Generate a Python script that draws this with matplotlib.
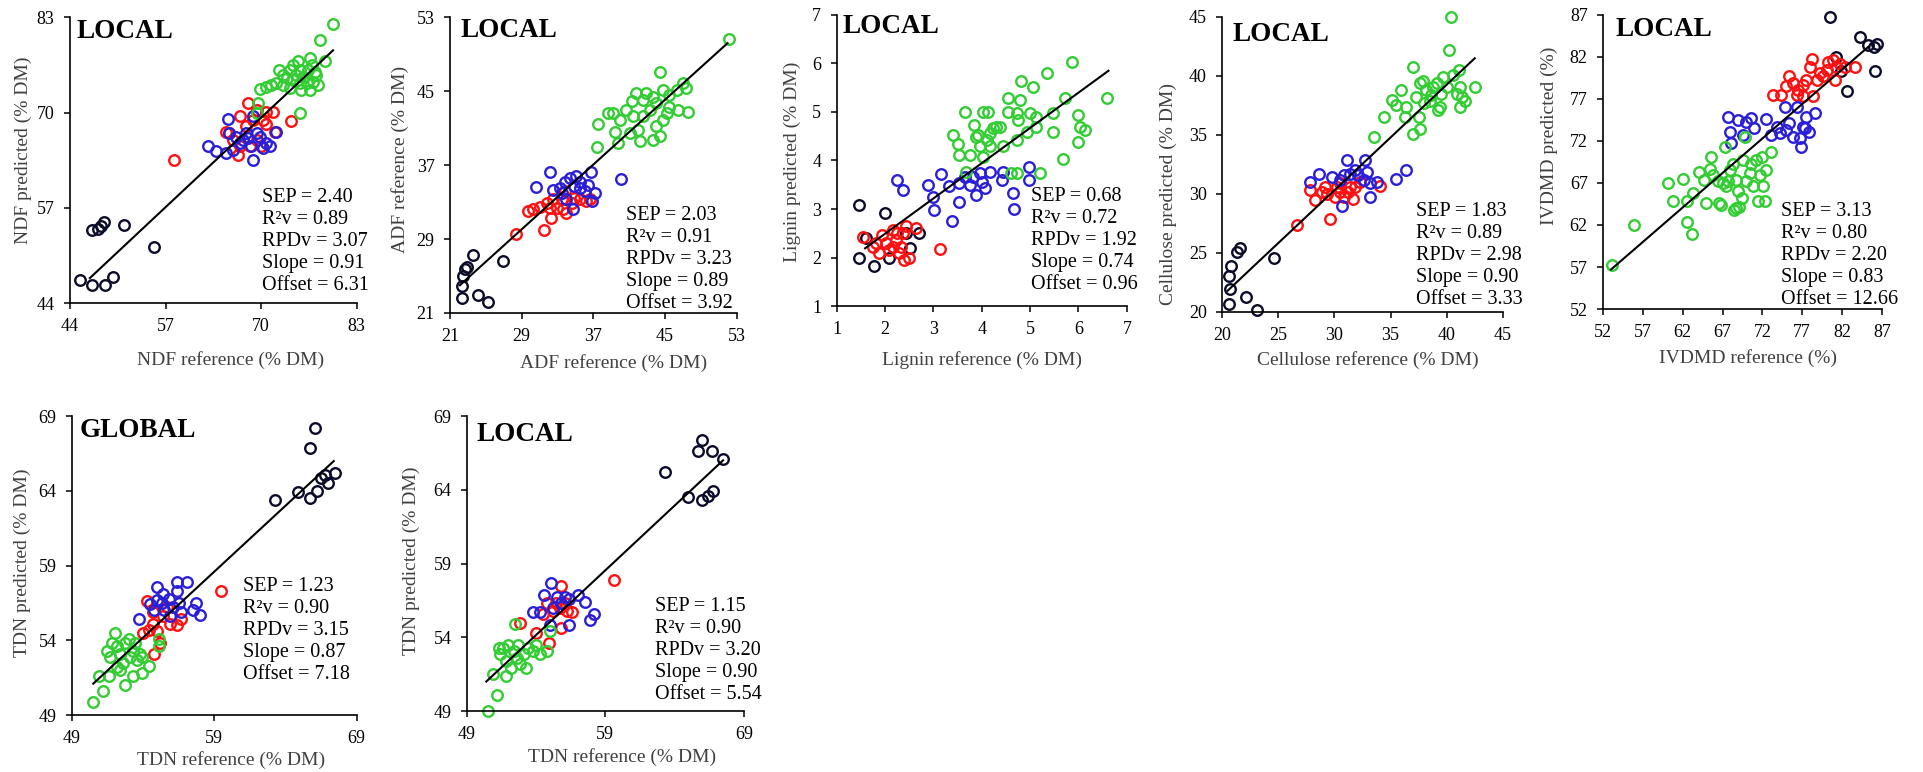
import matplotlib
matplotlib.use('Agg')
import matplotlib.pyplot as plt

plt.rcParams['font.family'] = ['Liberation Serif', 'DejaVu Serif']

# ---------------- DATA ----------------
stat_names = ['SEP', 'R\u00b2v', 'RPDv', 'Slope', 'Offset']

# NDF (LOCAL)
ndf_black_x = [45.4, 47.0, 48.8, 49.8, 47.0, 47.8, 48.2, 48.6, 51.4, 55.4]
ndf_black_y = [47.2, 46.5, 46.4, 47.6, 54.0, 54.1, 54.5, 55.0, 54.7, 51.7]
ndf_red_x = [58.1, 67.1, 68.2, 69.4, 70.7, 71.6, 74.1, 65.3, 65.7, 66.9, 68.9, 70.3, 70.7, 68.0, 69.4, 71.9, 66.2, 68.5, 67.1, 70.0]
ndf_red_y = [63.5, 69.5, 71.3, 70.4, 70.1, 70.1, 68.9, 67.4, 67.2, 64.2, 69.0, 69.0, 68.5, 68.1, 66.3, 67.4, 66.3, 65.4, 65.4, 65.4]
ndf_blue_x = [65.5, 62.8, 63.9, 65.3, 66.2, 66.6, 67.5, 68.0, 68.7, 68.9, 69.4, 69.8, 70.3, 70.7, 72.1, 68.9, 67.1, 65.7, 71.2, 68.2]
ndf_blue_y = [69.1, 65.5, 64.7, 64.5, 64.9, 66.7, 66.3, 67.2, 65.4, 63.5, 67.2, 66.7, 65.1, 65.8, 67.3, 69.5, 65.8, 67.2, 65.4, 66.5]
ndf_green_x = [79.8, 78.0, 78.7, 76.6, 75.3, 69.4, 69.6, 69.8, 70.7, 72.1, 73.5, 73.9, 74.4, 75.3, 75.7, 76.2, 77.1, 77.5, 76.9,
               77.8, 76.6, 75.5, 75.3, 74.4, 73.0, 73.0, 71.4, 72.5, 74.8, 73.9, 77.3, 76.4, 75.0]
ndf_green_y = [82.1, 79.9, 77.1, 77.5, 69.9, 69.9, 71.3, 73.2, 73.5, 74.0, 74.7, 75.8, 76.5, 75.8, 74.9, 74.0, 74.2, 75.1, 76.5,
               73.8, 73.1, 73.1, 74.0, 74.5, 75.1, 73.8, 73.8, 75.8, 75.1, 73.3, 75.6, 75.8, 77.0]
ndf_fit_x = [46.7, 79.8]
ndf_fit_y = [47.4, 78.5]
ndf_stats = [2.40, 0.89, 3.07, 0.91, 6.31]
ndf_ticks = [44, 57, 70, 83]

# ADF (LOCAL)
adf_black_x = [22.3, 22.3, 22.5, 22.7, 22.9, 23.6, 24.1, 25.2, 26.9]
adf_black_y = [22.6, 23.9, 25.0, 25.8, 26.0, 27.3, 22.9, 22.2, 26.6]
adf_red_x = [28.4, 31.5, 29.7, 30.3, 31.0, 31.8, 32.3, 32.9, 33.6, 34.0, 34.6, 33.5, 35.5, 36.2, 36.6, 32.5, 33.8, 34.8, 32.2]
adf_red_y = [29.5, 30.0, 32.0, 32.2, 32.5, 32.9, 31.3, 32.4, 32.2, 31.8, 32.9, 33.3, 33.3, 33.1, 33.3, 33.3, 34.2, 33.4, 32.4]
adf_blue_x = [30.6, 32.2, 32.5, 33.3, 33.8, 34.4, 35.1, 35.5, 36.1, 36.8, 37.2, 36.9, 40.1, 34.7, 34.0, 33.5, 35.5, 36.4, 34.8]
adf_blue_y = [34.6, 36.3, 34.3, 34.5, 35.2, 35.6, 35.8, 34.5, 34.2, 36.3, 34.0, 33.1, 35.5, 32.2, 33.3, 34.0, 35.2, 34.9, 34.7]
adf_green_x = [52.2, 44.5, 37.4, 37.5, 38.7, 39.4, 40.0, 40.7, 41.3, 41.8, 42.6, 42.9, 43.7, 44.0, 44.8, 45.5, 46.3, 47.0, 47.4,
               47.6, 46.5, 45.5, 44.8, 44.0, 44.4, 43.7, 42.2, 41.1, 39.8, 39.2, 43.3, 42.6, 41.4, 42.0, 45.2]
adf_green_y = [50.7, 47.1, 39.0, 41.5, 42.6, 40.6, 41.9, 43.0, 43.9, 44.8, 44.1, 44.8, 44.4, 43.7, 45.1, 44.6, 45.1, 45.9, 45.3,
               42.8, 43.0, 43.3, 41.9, 41.2, 40.1, 39.7, 39.6, 40.5, 39.4, 42.6, 43.0, 42.3, 42.3, 40.8, 42.6]
adf_fit_x = [22.1, 52.0]
adf_fit_y = [24.0, 50.2]
adf_stats = [2.03, 0.91, 3.23, 0.89, 3.92]
adf_ticks = [21, 29, 37, 45, 53]

# Lignin (LOCAL)
lig_black_x = [1.47, 2.01, 1.46, 1.78, 1.61, 2.09, 2.51, 2.71, 2.44]
lig_black_y = [3.08, 2.92, 2.00, 1.82, 2.40, 1.98, 2.19, 2.50, 2.50]
lig_red_x = [1.54, 1.75, 1.95, 2.16, 2.23, 2.37, 2.44, 2.64, 1.88, 2.09, 2.30, 2.40, 2.49, 3.13, 1.82, 2.02, 2.16, 2.33, 2.26]
lig_red_y = [2.43, 2.22, 2.46, 2.57, 2.36, 2.50, 2.64, 2.60, 2.09, 2.15, 2.09, 1.95, 1.98, 2.17, 2.29, 2.29, 2.22, 2.22, 2.50]
lig_blue_x = [2.26, 2.37, 2.89, 3.16, 3.32, 2.99, 3.02, 3.39, 3.53, 3.65, 3.75, 3.89, 3.96, 4.01, 4.06, 4.17, 4.44, 4.41, 4.64,
              4.66, 4.98, 4.98, 3.54, 3.82]
lig_blue_y = [3.60, 3.39, 3.49, 3.72, 3.47, 3.25, 2.98, 2.76, 3.15, 3.67, 3.49, 3.29, 3.74, 3.56, 3.43, 3.77, 3.77, 3.60, 3.34,
              3.01, 3.87, 3.60, 3.53, 3.67]
lig_green_x = [5.86, 5.34, 4.82, 5.06, 4.55, 4.79, 5.72, 6.58, 3.65, 4.03, 4.13, 4.55, 4.72, 4.99, 5.13, 5.48, 6.00, 4.75, 3.41,
               3.51, 3.54, 3.75, 3.85, 3.92, 3.96, 4.10, 4.17, 4.23, 4.30, 4.37, 4.44, 4.72, 4.93, 5.13, 5.48, 6.03, 6.13,
               6.00, 5.69, 4.03, 3.68, 4.61, 4.72, 5.20, 4.17, 3.89]
lig_green_y = [6.04, 5.80, 5.63, 5.51, 5.28, 5.25, 5.28, 5.28, 5.01, 5.01, 5.01, 5.01, 4.97, 4.97, 4.90, 4.97, 4.94, 4.84, 4.53,
               4.35, 4.11, 4.11, 4.73, 4.53, 4.29, 4.42, 4.56, 4.66, 4.70, 4.70, 4.29, 4.42, 4.59, 4.70, 4.59, 4.70, 4.63,
               4.39, 4.04, 4.08, 3.77, 3.74, 3.74, 3.74, 4.29, 4.49]
lig_fit_x = [1.59, 6.62]
lig_fit_y = [2.19, 5.85]
lig_stats = [0.68, 0.72, 1.92, 0.74, 0.96]
lig_ticks = [1, 2, 3, 4, 5, 6, 7]

# Cellulose (LOCAL)
cel_black_x = [20.6, 20.7, 20.6, 20.8, 21.3, 21.6, 22.1, 23.1, 24.6]
cel_black_y = [20.7, 21.9, 23.0, 23.9, 25.1, 25.4, 21.3, 20.2, 24.6]
cel_red_x = [26.7, 27.8, 28.3, 28.9, 29.3, 29.6, 30.1, 30.5, 30.9, 31.2, 31.7, 31.8, 32.3, 30.5, 34.1, 29.2, 30.2, 31.4]
cel_red_y = [27.4, 30.3, 29.5, 30.2, 30.0, 27.9, 29.7, 30.2, 29.7, 30.2, 29.6, 30.6, 31.0, 30.9, 30.7, 30.6, 30.6, 30.6]
cel_blue_x = [27.8, 28.6, 29.8, 30.7, 31.1, 30.5, 31.4, 31.8, 32.1, 32.6, 32.9, 32.7, 33.2, 33.2, 33.8, 35.5, 36.4, 30.9]
cel_blue_y = [31.0, 31.7, 31.4, 29.0, 32.9, 31.2, 31.7, 32.0, 31.6, 31.2, 31.9, 32.9, 30.9, 29.7, 31.0, 31.3, 32.0, 31.6]
cel_green_x = [40.4, 40.2, 37.0, 33.5, 34.4, 35.1, 35.5, 35.9, 36.3, 37.0, 37.6, 36.4, 37.3, 37.6, 37.9, 38.2, 38.5, 38.8, 39.1,
               39.4, 39.5, 39.7, 40.0, 40.6, 40.9, 41.2, 41.4, 41.6, 41.2, 42.5, 37.5, 38.0, 39.2, 38.6, 41.1]
cel_green_y = [45.0, 42.2, 40.8, 34.8, 36.5, 38.0, 37.5, 38.8, 36.5, 35.1, 35.5, 37.4, 38.2, 39.4, 39.6, 38.8, 37.9, 39.1, 39.4,
               37.4, 38.5, 39.9, 39.1, 40.1, 38.5, 39.1, 38.2, 37.9, 37.4, 39.1, 36.5, 37.7, 37.1, 38.4, 40.5]
cel_fit_x = [20.5, 42.5]
cel_fit_y = [21.8, 41.5]
cel_stats = [1.83, 0.89, 2.98, 0.90, 3.33]
cel_ticks = [20, 25, 30, 35, 40, 45]

# IVDMD (LOCAL)
ivd_black_x = [80.5, 84.2, 85.3, 86.4, 86.2, 82.6, 81.3, 81.9, 86.0]
ivd_black_y = [86.7, 84.4, 83.4, 83.5, 80.3, 77.9, 82.0, 80.3, 83.2]
ivd_red_x = [73.3, 74.4, 75.0, 75.4, 75.9, 76.5, 77.1, 77.5, 78.0, 78.2, 78.4, 78.8, 79.2, 79.6, 80.3, 80.9, 81.3, 81.7, 82.4,
             83.6, 77.1, 76.3, 80.1, 81.1]
ivd_red_y = [77.5, 77.5, 78.5, 79.7, 78.9, 78.1, 78.7, 79.3, 80.8, 81.8, 77.3, 79.3, 80.1, 79.7, 81.4, 81.6, 80.8, 81.2, 80.8,
             80.8, 77.3, 77.5, 80.5, 79.3]
ivd_blue_x = [67.7, 68.0, 68.1, 68.9, 69.6, 70.0, 70.6, 71.0, 72.5, 73.1, 73.8, 74.2, 74.8, 75.0, 75.9, 76.3, 76.7, 76.9, 77.1,
              77.5, 77.8, 78.6, 77.3, 75.4]
ivd_blue_y = [74.8, 73.1, 71.7, 74.5, 72.7, 74.3, 74.7, 73.5, 74.6, 72.7, 73.7, 72.9, 76.1, 73.3, 72.5, 76.1, 72.3, 71.3, 73.7,
              74.9, 73.1, 75.3, 73.5, 74.1]
ivd_green_x = [53.1, 55.9, 62.6, 63.2, 60.1, 60.8, 62.0, 62.6, 63.3, 64.1, 64.7, 65.4, 65.6, 65.8, 66.4, 66.6, 66.8, 67.3, 67.5,
               67.9, 68.3, 68.7, 68.9, 69.1, 69.4, 69.6, 69.8, 70.0, 70.4, 70.6, 70.8, 71.2, 71.5, 71.7, 71.9, 72.1, 72.3,
               72.5, 73.1, 68.7, 67.0, 67.7, 68.5, 64.9]
ivd_green_y = [57.2, 62.0, 62.4, 60.9, 67.0, 64.9, 67.5, 64.8, 65.8, 68.3, 67.4, 68.7, 70.1, 68.0, 67.2, 64.6, 64.4, 71.3, 66.6,
               68.5, 69.3, 67.4, 66.0, 64.2, 65.2, 69.7, 72.5, 67.2, 68.2, 69.3, 66.6, 69.7, 64.8, 68.0, 70.1, 66.6, 64.8,
               68.5, 70.7, 64.0, 67.0, 67.2, 63.8, 64.6]
ivd_fit_x = [53.0, 85.3]
ivd_fit_y = [56.7, 83.2]
ivd_stats = [3.13, 0.80, 2.20, 0.83, 12.66]
ivd_ticks = [52, 57, 62, 67, 72, 77, 82, 87]

# TDN (GLOBAL)
tdg_black_x = [66.1, 65.7, 63.3, 64.9, 65.7, 66.2, 66.5, 67.0, 67.5, 66.8]
tdg_black_y = [68.2, 66.9, 63.4, 63.9, 63.5, 64.0, 64.9, 64.5, 65.2, 65.1]
tdg_red_x = [59.5, 54.3, 54.0, 54.4, 54.7, 55.0, 54.8, 55.2, 55.4, 55.9, 56.4, 56.7, 54.7, 55.7]
tdg_red_y = [57.3, 56.6, 54.5, 54.7, 55.1, 54.6, 53.1, 53.8, 55.6, 55.1, 55.0, 55.4, 55.9, 56.2]
tdg_blue_x = [55.0, 56.4, 57.1, 56.4, 53.7, 54.5, 55.0, 55.3, 55.5, 55.8, 56.1, 56.5, 56.7, 57.7, 57.5, 58.0, 54.8, 55.4, 55.9]
tdg_blue_y = [57.6, 57.9, 57.9, 57.3, 55.4, 56.4, 56.7, 56.5, 56.0, 56.8, 56.2, 56.5, 55.9, 56.5, 56.0, 55.7, 56.0, 57.1, 55.6]
tdg_green_x = [50.5, 51.2, 50.9, 51.6, 52.0, 52.7, 53.3, 53.9, 54.4, 55.1, 55.1, 51.5, 51.8, 52.2, 52.4, 52.7, 53.1, 53.3, 53.6,
               53.8, 52.6, 52.2, 51.7, 53.0, 53.4, 53.9, 52.4]
tdg_green_y = [49.9, 50.6, 51.6, 51.6, 54.5, 51.0, 51.6, 51.8, 52.3, 54.1, 53.6, 53.3, 53.8, 53.6, 53.1, 53.8, 52.9, 53.3, 52.7,
               53.1, 52.5, 52.2, 52.9, 54.1, 53.8, 52.9, 52.0]
tdg_fit_x = [50.5, 67.4]
tdg_fit_y = [51.1, 66.0]
tdg_stats = [1.23, 0.90, 3.15, 0.87, 7.18]

# TDN (LOCAL)
tdl_black_x = [66.0, 65.7, 66.7, 67.5, 63.3, 65.0, 66.0, 66.4, 66.8]
tdl_black_y = [67.4, 66.6, 66.6, 66.1, 65.2, 63.5, 63.3, 63.6, 63.9]
tdl_red_x = [59.6, 55.8, 52.8, 54.0, 54.9, 55.8, 54.8, 55.2, 55.7, 56.2, 56.6, 54.5, 55.4, 56.1]
tdl_red_y = [57.9, 57.5, 55.0, 54.3, 53.6, 54.6, 56.3, 55.8, 56.0, 55.8, 55.7, 55.6, 56.3, 56.3]
tdl_blue_x = [55.1, 54.6, 53.8, 55.5, 55.8, 56.4, 57.0, 57.5, 57.9, 58.2, 56.4, 55.0, 54.3, 55.2, 56.1]
tdl_blue_y = [57.7, 56.9, 55.7, 56.7, 56.3, 56.6, 56.9, 56.4, 55.2, 55.6, 54.8, 54.8, 55.7, 56.0, 56.7]
tdl_green_x = [50.5, 51.2, 50.9, 51.8, 52.5, 54.8, 55.0, 51.4, 51.6, 52.0, 52.4, 52.6, 52.8, 53.1, 53.4, 53.8, 54.3, 53.3,
               52.2, 51.8, 51.3, 54.0, 52.7]
tdl_green_y = [49.0, 50.1, 51.5, 51.4, 54.9, 53.1, 54.4, 52.9, 53.3, 53.5, 53.1, 52.6, 52.2, 52.9, 53.3, 53.1, 52.9, 51.9,
               51.9, 52.4, 53.3, 53.5, 53.5]
tdl_fit_x = [50.4, 67.5]
tdl_fit_y = [51.0, 66.0]
tdl_stats = [1.15, 0.90, 3.20, 0.90, 5.54]
tdn_yticks = [49, 54, 59, 64, 69]
tdn_xticks = [49, 59, 69]

# ---------------- STYLE ----------------
COL_BLACK = '#0b0b2a'
COL_RED = '#ff1010'
COL_BLUE = '#2a1fd6'
COL_GREEN = '#33cc33'
LABEL_COL = '#404040'

panels = [
    dict(rect=[0.0364, 0.6075, 0.149, 0.370], title='LOCAL', tpos=(0.024, 0.95),
         groups=[(ndf_black_x, ndf_black_y), (ndf_red_x, ndf_red_y), (ndf_blue_x, ndf_blue_y), (ndf_green_x, ndf_green_y)],
         fit=(ndf_fit_x, ndf_fit_y), stats=ndf_stats, xt=ndf_ticks, yt=ndf_ticks,
         xl='NDF reference (% DM)', yl='NDF predicted (% DM)',
         xlpos=(0.56, -0.20), ylpos=(-0.164, 0.535), spos=(0.67, 0.37)),
    dict(rect=[0.234, 0.5946, 0.149, 0.383], title='LOCAL', tpos=(0.035, 0.956),
         groups=[(adf_black_x, adf_black_y), (adf_red_x, adf_red_y), (adf_blue_x, adf_blue_y), (adf_green_x, adf_green_y)],
         fit=(adf_fit_x, adf_fit_y), stats=adf_stats, xt=adf_ticks, yt=adf_ticks,
         xl='ADF reference (% DM)', yl='ADF reference (% DM)',
         xlpos=(0.57, -0.17), ylpos=(-0.174, 0.52), spos=(0.615, 0.33)),
    dict(rect=[0.435, 0.6036, 0.151, 0.377], title='LOCAL', tpos=(0.021, 0.962),
         groups=[(lig_black_x, lig_black_y), (lig_red_x, lig_red_y), (lig_blue_x, lig_blue_y), (lig_green_x, lig_green_y)],
         fit=(lig_fit_x, lig_fit_y), stats=lig_stats, xt=lig_ticks, yt=lig_ticks,
         xl='Lignin reference (% DM)', yl='Lignin predicted (% DM)',
         xlpos=(0.50, -0.186), ylpos=(-0.152, 0.495), spos=(0.67, 0.375)),
    dict(rect=[0.6355, 0.596, 0.146, 0.382], title='LOCAL', tpos=(0.036, 0.942),
         groups=[(cel_black_x, cel_black_y), (cel_red_x, cel_red_y), (cel_blue_x, cel_blue_y), (cel_green_x, cel_green_y)],
         fit=(cel_fit_x, cel_fit_y), stats=cel_stats, xt=cel_ticks, yt=cel_ticks,
         xl='Cellulose reference (% DM)', yl='Cellulose predicted (% DM)',
         xlpos=(0.52, -0.163), ylpos=(-0.192, 0.40), spos=(0.69, 0.34)),
    dict(rect=[0.8336, 0.5997, 0.145, 0.381], title='LOCAL', tpos=(0.043, 0.952),
         groups=[(ivd_black_x, ivd_black_y), (ivd_red_x, ivd_red_y), (ivd_blue_x, ivd_blue_y), (ivd_green_x, ivd_green_y)],
         fit=(ivd_fit_x, ivd_fit_y), stats=ivd_stats, xt=ivd_ticks, yt=ivd_ticks,
         xl='IVDMD reference (%)', yl='IVDMD predicted (%)',
         xlpos=(0.52, -0.167), ylpos=(-0.194, 0.59), spos=(0.64, 0.33)),
    dict(rect=[0.0374, 0.0738, 0.148, 0.387], title='GLOBAL', tpos=(0.028, 0.953),
         groups=[(tdg_black_x, tdg_black_y), (tdg_red_x, tdg_red_y), (tdg_blue_x, tdg_blue_y), (tdg_green_x, tdg_green_y)],
         fit=(tdg_fit_x, tdg_fit_y), stats=tdg_stats, xt=tdn_xticks, yt=tdn_yticks,
         xl='TDN reference (% DM)', yl='TDN predicted (% DM)',
         xlpos=(0.56, -0.15), ylpos=(-0.175, 0.51), spos=(0.60, 0.43)),
    dict(rect=[0.2428, 0.079, 0.144, 0.382], title='LOCAL', tpos=(0.036, 0.936),
         groups=[(tdl_black_x, tdl_black_y), (tdl_red_x, tdl_red_y), (tdl_blue_x, tdl_blue_y), (tdl_green_x, tdl_green_y)],
         fit=(tdl_fit_x, tdl_fit_y), stats=tdl_stats, xt=tdn_xticks, yt=tdn_yticks,
         xl='TDN reference (% DM)', yl='TDN predicted (% DM)',
         xlpos=(0.56, -0.156), ylpos=(-0.20, 0.51), spos=(0.68, 0.355)),
]

colors = [COL_BLACK, COL_RED, COL_BLUE, COL_GREEN]

fig = plt.figure(figsize=(19.23, 7.72), dpi=100)
for p in panels:
    ax = fig.add_axes(p['rect'])
    for (gx, gy), c in zip(p['groups'], colors):
        ax.plot(gx, gy, linestyle='none', marker='o', markersize=7.6, markerfacecolor='none',
                markeredgecolor=c, markeredgewidth=1.7, clip_on=False, zorder=2)
    ax.plot(p['fit'][0], p['fit'][1], color='black', linewidth=1.5, zorder=3)
    ax.set_xlim(p['xt'][0], p['xt'][-1])
    ax.set_ylim(p['yt'][0], p['yt'][-1])
    ax.set_xticks(p['xt'])
    ax.set_yticks(p['yt'])
    ax.tick_params(direction='out', length=4, width=1.1, labelsize=13, pad=7, colors='black')
    for s in ['top', 'right']:
        ax.spines[s].set_visible(False)
    for s in ['left', 'bottom']:
        ax.spines[s].set_linewidth(1.2)
    ax.set_xlabel(p['xl'], fontsize=14, color=LABEL_COL)
    ax.set_ylabel(p['yl'], fontsize=14, color=LABEL_COL)
    ax.xaxis.set_label_coords(*p['xlpos'])
    ax.xaxis.label.set_va('center')
    ax.yaxis.set_label_coords(*p['ylpos'])
    ax.yaxis.label.set_va('center')
    ax.text(p['tpos'][0], p['tpos'][1], p['title'], transform=ax.transAxes, fontsize=19.5,
            fontweight='bold', ha='left', va='center')
    sx, sy = p['spos']
    dy = 22.0 / (p['rect'][3] * 772)
    for i, (nm, v) in enumerate(zip(stat_names, p['stats'])):
        ax.text(sx, sy - i * dy, f'{nm} = {v:.2f}', transform=ax.transAxes, fontsize=14.5,
                ha='left', va='center', color='black', zorder=4)

fig.savefig('out.png', dpi=100)
